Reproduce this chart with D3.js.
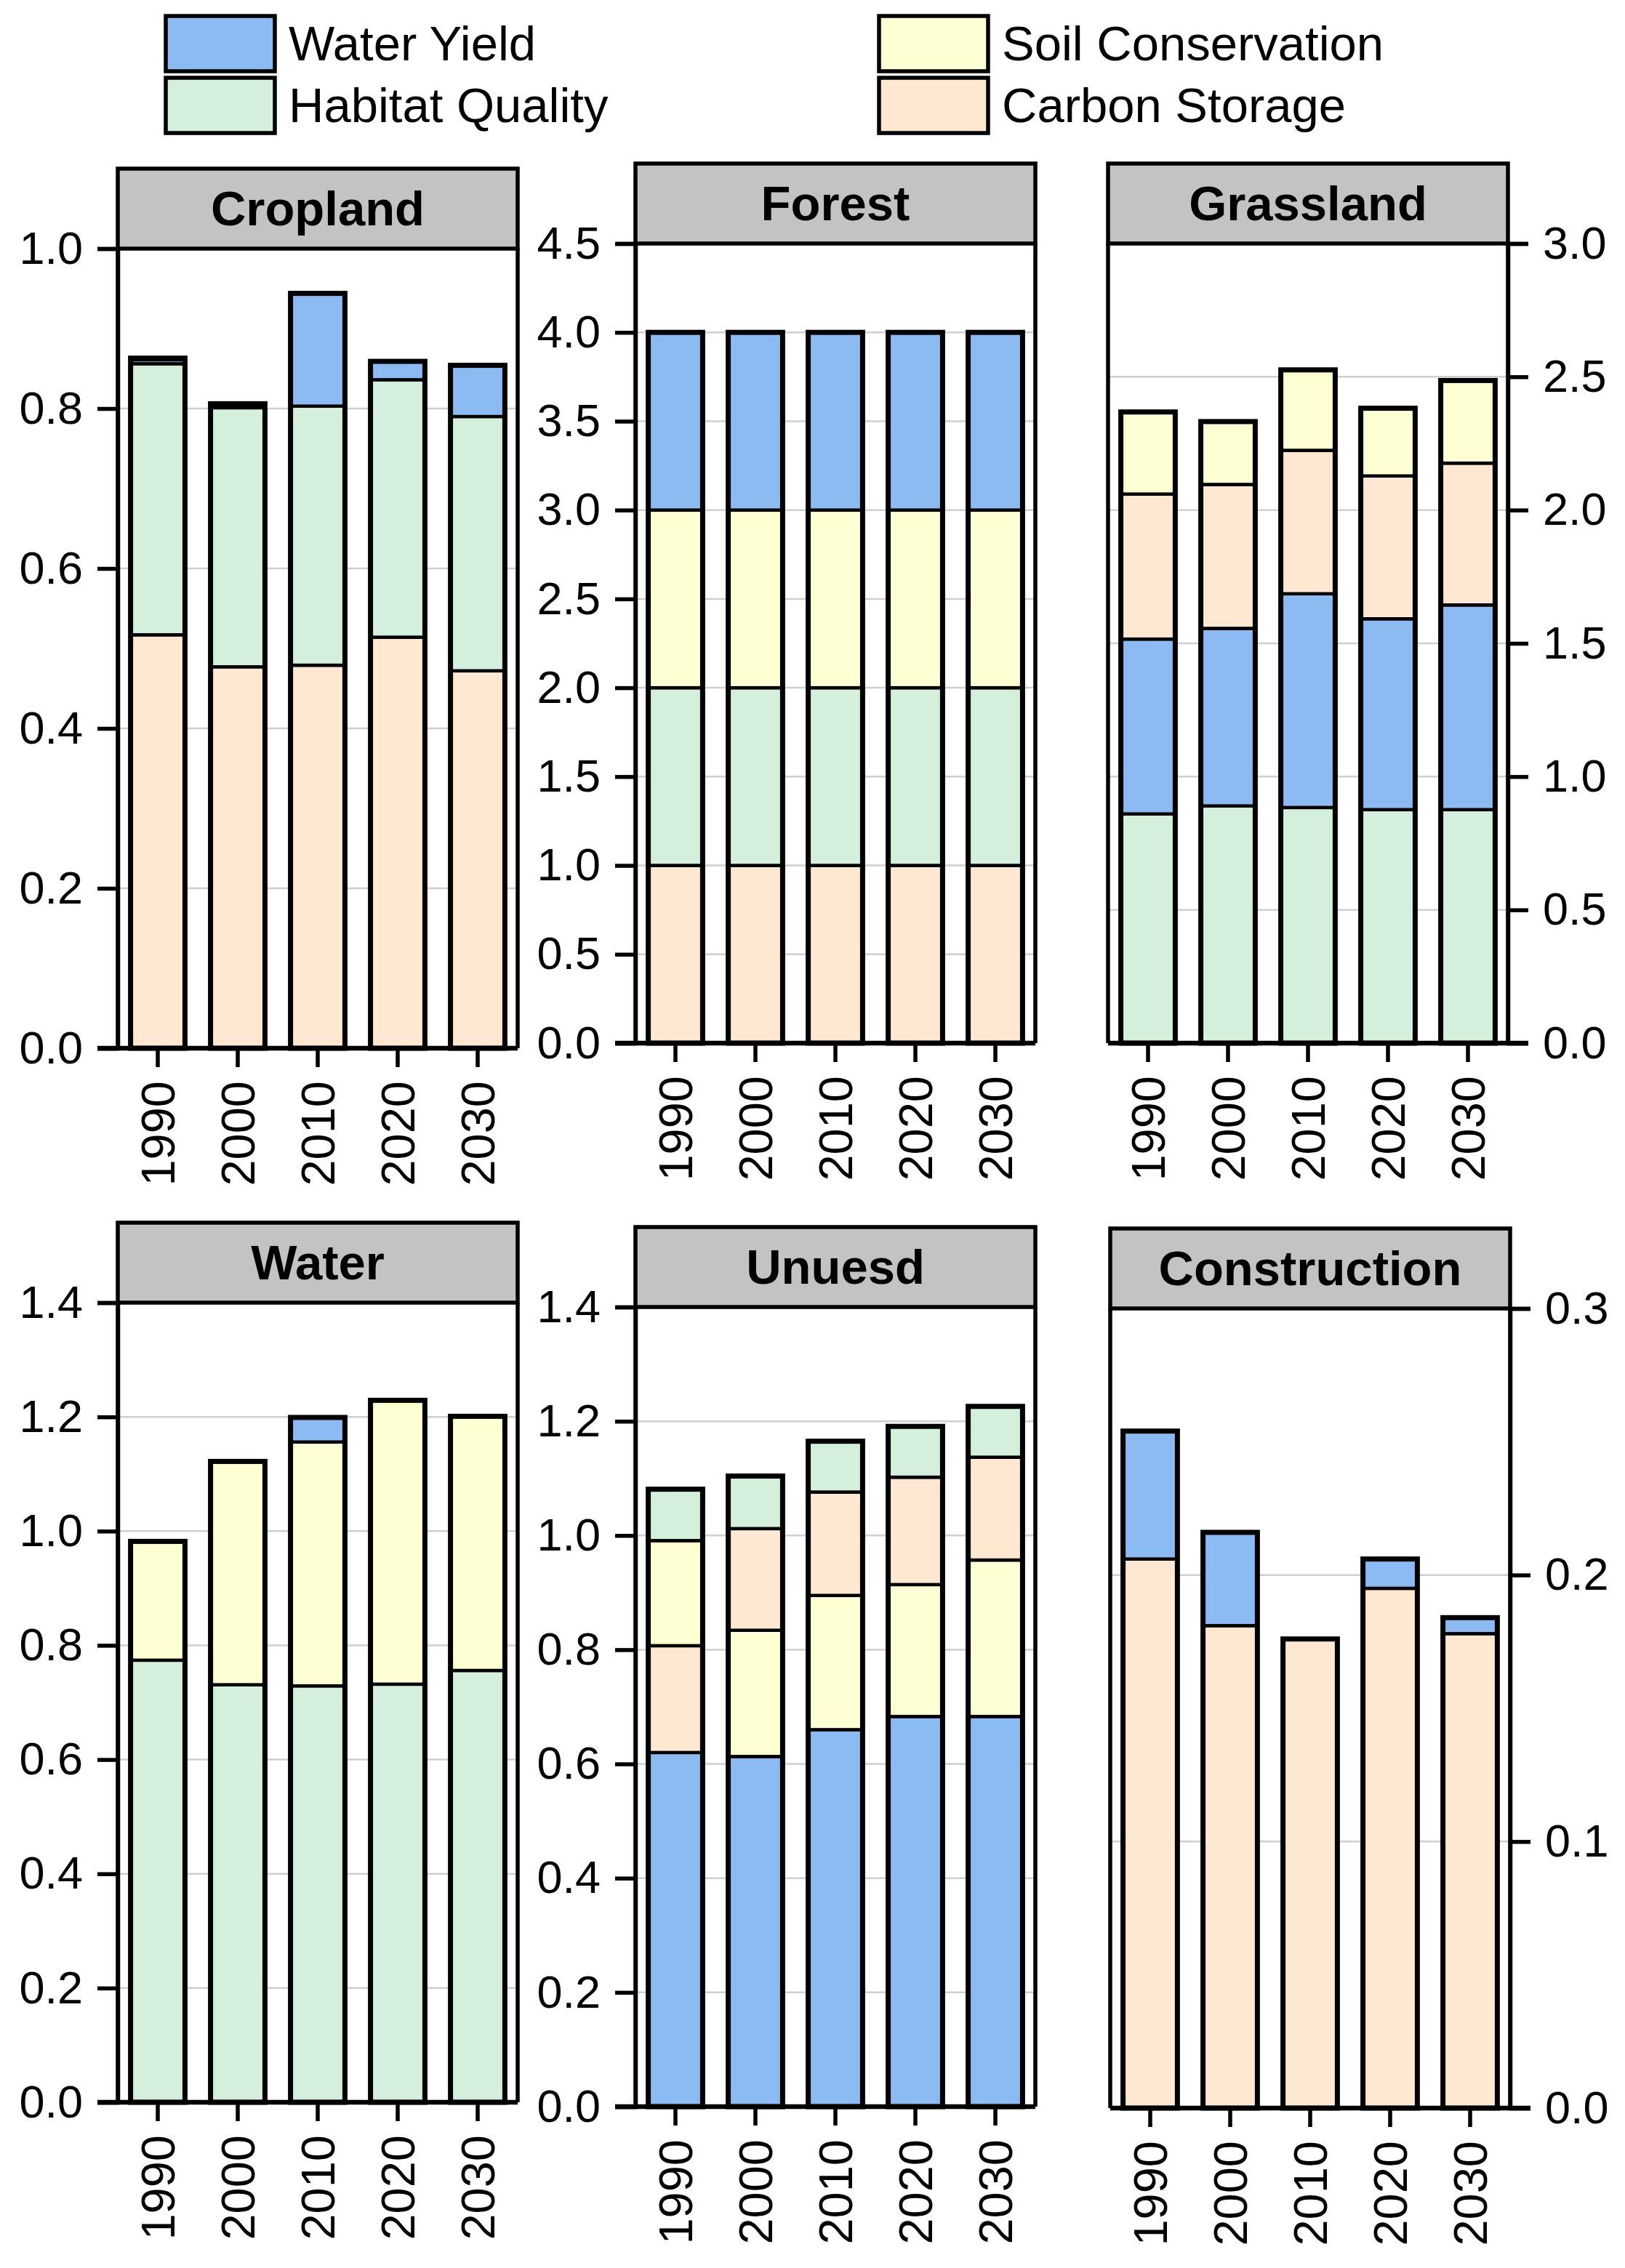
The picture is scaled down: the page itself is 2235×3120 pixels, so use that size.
<!DOCTYPE html>
<meta charset="utf-8">
<style>
body { margin: 0; background: #fff; }
text { font-family: "Liberation Sans", Arial, sans-serif; fill: #000; }
</style>
<svg width="2235" height="3120"></svg>
<script src="https://d3js.org/d3.v7.min.js"></script>
<script>

// ---- data ----
var years = ["1990", "2000", "2010", "2020", "2030"];
var services = ["Carbon Storage", "Habitat Quality", "Soil Conservation", "Water Yield"];
var legendOrder = ["Water Yield", "Habitat Quality", "Soil Conservation", "Carbon Storage"];
var landTypes = ["Cropland", "Forest", "Grassland", "Water", "Unuesd", "Construction"];

// rows follow `services`: carbon, habitat, soil, water
var croplandValues = [
  [0.517, 0.477, 0.479, 0.514, 0.472],
  [0.339, 0.324, 0.324, 0.322, 0.318],
  [0.002, 0.002, 0.000, 0.000, 0.000],
  [0.005, 0.003, 0.141, 0.023, 0.064]
];
var forestValues = [
  [1, 1, 1, 1, 1],
  [1, 1, 1, 1, 1],
  [1, 1, 1, 1, 1],
  [1, 1, 1, 1, 1]
];
var grasslandValues = [
  [0.544, 0.540, 0.538, 0.536, 0.532],
  [0.860, 0.890, 0.884, 0.876, 0.876],
  [0.308, 0.236, 0.302, 0.254, 0.310],
  [0.656, 0.666, 0.802, 0.716, 0.768]
];
var waterValues = [
  [0.000, 0.000, 0.000, 0.000, 0.000],
  [0.774, 0.731, 0.729, 0.732, 0.756],
  [0.208, 0.391, 0.427, 0.497, 0.445],
  [0.000, 0.000, 0.043, 0.000, 0.000]
];
var unusedValues = [
  [0.187, 0.178, 0.181, 0.188, 0.180],
  [0.090, 0.092, 0.089, 0.089, 0.089],
  [0.184, 0.221, 0.235, 0.231, 0.274],
  [0.620, 0.613, 0.660, 0.683, 0.683]
];
var constructionValues = [
  [0.206, 0.181, 0.176, 0.195, 0.178],
  [0.000, 0.000, 0.000, 0.000, 0.000],
  [0.000, 0.000, 0.000, 0.000, 0.000],
  [0.048, 0.035, 0.000, 0.011, 0.006]
];
var yMax = [1.0, 4.5, 3.0, 1.4, 1.4, 0.3];
var yStep = [0.2, 0.5, 0.5, 0.2, 0.2, 0.1];

var allValues = [croplandValues, forestValues, grasslandValues, waterValues, unusedValues, constructionValues];

// ---- layout ----
var panels = [
  {x: 162,  top: 342,  side: "left"},
  {x: 874,  top: 335,  side: "left"},
  {x: 1524, top: 335,  side: "right"},
  {x: 162,  top: 1792, side: "left"},
  {x: 874,  top: 1798, side: "left"},
  {x: 1527, top: 1800, side: "right"}
];
var pw = 550, ph = 1100, stripH = 110;

var svg = d3.select("svg");

var color = d3.scaleOrdinal()
    .domain(services)
    .range(["#FFE8D2", "#D4F0DC", "#FFFFD4", "#8CBBF4"]);

// legend
var legend = svg.append("g").attr("class", "legend");
var lg = legend.selectAll("g")
    .data(legendOrder)
    .enter().append("g")
    .attr("transform", function(d, i) {
      return "translate(" + (i < 2 ? 228 : 1209) + "," + (22 + (i % 2) * 85) + ")";
    });
lg.append("rect")
    .attr("width", 150).attr("height", 76)
    .attr("fill", function(d) { return color(d); })
    .attr("stroke", "#000").attr("stroke-width", 5.5);
lg.append("text")
    .attr("x", 169).attr("y", 38).attr("dy", "0.35em")
    .attr("font-size", 67)
    .text(function(d) { return d; });

// panels
landTypes.forEach(function(name, p) {
  var box = panels[p], vals = allValues[p];
  var g = svg.append("g").attr("transform", "translate(" + box.x + "," + box.top + ")");

  var y = d3.scaleLinear().domain([0, yMax[p]]).range([ph, 0]);
  var x = d3.scaleBand().domain(years).range([0, pw]).paddingInner(0.32).paddingOuter(0.16);
  var ticks = d3.range(0, yMax[p] + yStep[p] / 2, yStep[p]);

  // grid
  g.selectAll(".grid")
      .data(ticks.filter(function(t) { return t > 0 && t < yMax[p] - 1e-9; }))
      .enter().append("line")
      .attr("x1", 0).attr("x2", pw)
      .attr("y1", function(d) { return y(d); })
      .attr("y2", function(d) { return y(d); })
      .attr("stroke", "#cfcfcf").attr("stroke-width", 2.5);

  // bars: within each bar the largest service sits at the bottom
  years.forEach(function(yr, i) {
    var segs = services.map(function(s, k) { return {key: s, k: k, value: vals[k][i]}; })
        .filter(function(d) { return d.value > 0; })
        .sort(function(a, b) { return b.value - a.value || a.k - b.k; });
    var acc = 0;
    segs.forEach(function(d) { d.y0 = acc; acc += d.value; d.y1 = acc; });

    var bar = g.append("g");
    bar.selectAll("rect")
        .data(segs)
        .enter().append("rect")
        .attr("x", x(yr))
        .attr("width", x.bandwidth())
        .attr("y", function(d) { return y(d.y1); })
        .attr("height", function(d) { return y(d.y0) - y(d.y1); })
        .attr("fill", function(d) { return color(d.key); })
        .attr("stroke", "#000").attr("stroke-width", 4.5);
    bar.append("rect")
        .attr("x", x(yr)).attr("width", x.bandwidth())
        .attr("y", y(acc)).attr("height", y(0) - y(acc))
        .attr("fill", "none")
        .attr("stroke", "#000").attr("stroke-width", 7);
  });

  // frame sides
  g.append("line").attr("x1", 0).attr("x2", 0).attr("y1", 0).attr("y2", ph)
      .attr("stroke", "#000").attr("stroke-width", 5.5);
  g.append("line").attr("x1", pw).attr("x2", pw).attr("y1", 0).attr("y2", ph)
      .attr("stroke", "#000").attr("stroke-width", 5.5);

  // y axis
  var yAxis = (box.side === "left" ? d3.axisLeft(y) : d3.axisRight(y))
      .tickValues(ticks).tickSize(28).tickPadding(20)
      .tickFormat(d3.format(".1f"));
  var ya = g.append("g")
      .attr("transform", box.side === "left" ? null : "translate(" + pw + ",0)")
      .call(yAxis);
  ya.select(".domain").attr("stroke-width", 5.5);
  ya.selectAll(".tick line").attr("stroke-width", 5.5);
  ya.selectAll("text")
      .attr("font-size", 63)
      .attr("font-family", "'Liberation Sans', Arial, sans-serif");

  // x axis
  var xa = g.append("g")
      .attr("transform", "translate(0," + ph + ")")
      .call(d3.axisBottom(x).tickSize(26).tickSizeOuter(0));
  xa.select(".domain").remove();
  xa.selectAll(".tick line").attr("stroke-width", 5.5);
  xa.selectAll("text")
      .attr("font-size", 65)
      .attr("font-family", "'Liberation Sans', Arial, sans-serif")
      .attr("transform", "rotate(-90)")
      .attr("x", -45).attr("y", 0).attr("dy", "0.35em")
      .attr("text-anchor", "end");
  g.append("line")
      .attr("x1", box.side === "left" ? -28 : 0)
      .attr("x2", box.side === "left" ? pw : pw + 28)
      .attr("y1", ph).attr("y2", ph)
      .attr("stroke", "#000").attr("stroke-width", 6.5);

  // strip title
  var strip = g.append("g").attr("transform", "translate(0," + (-stripH) + ")");
  strip.append("rect")
      .attr("width", pw).attr("height", stripH)
      .attr("fill", "#C3C3C3")
      .attr("stroke", "#000").attr("stroke-width", 5.5);
  strip.append("text")
      .attr("x", pw / 2).attr("y", stripH / 2).attr("dy", "0.35em")
      .attr("text-anchor", "middle")
      .attr("font-size", 67).attr("font-weight", "bold")
      .text(name);
});

</script>
